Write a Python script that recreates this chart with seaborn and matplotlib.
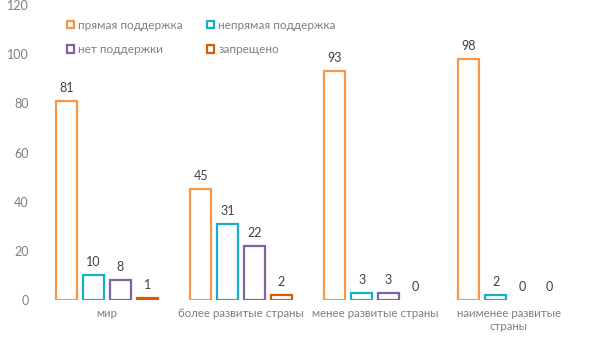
import matplotlib
matplotlib.use("Agg")
import matplotlib.pyplot as plt
from matplotlib.patches import Patch
import seaborn as sns
import pandas as pd

categories = ["мир", "более развитые страны", "менее развитые страны", "наименее развитые\nстраны"]
series = ["прямая поддержка", "непрямая поддержка", "нет поддержки", "запрещено"]
direct = [81, 45, 93, 98]
indirect = [10, 31, 3, 2]
no_support = [8, 22, 3, 0]
banned = [1, 2, 0, 0]
colors = ["#F79646", "#17AFC5", "#8064A2", "#D35E0A"]
y_ticks = [0, 20, 40, 60, 80, 100, 120]

values = [direct, indirect, no_support, banned]
rows = []
for s, vals in zip(series, values):
    for c, v in zip(categories, vals):
        rows.append({"category": c, "series": s, "value": v})
df = pd.DataFrame(rows)

sns.set_theme(style="white")
plt.rcParams["font.family"] = ["Lato", "DejaVu Sans"]

fig = plt.figure(figsize=(5.93, 3.44), dpi=100)
ax = fig.add_axes([40 / 593, 44 / 344, 536 / 593, 295 / 344])

sns.barplot(data=df, x="category", y="value", hue="series", order=categories,
            hue_order=series, palette=colors, fill=False, linewidth=1.6,
            width=0.8, gap=0.22, legend=False, ax=ax, errorbar=None)

for cont in ax.containers:
    for p in cont.patches:
        if p.get_height() == 0:
            p.set_linewidth(0)
    ax.bar_label(cont, fmt="%d", padding=5, fontsize=9, color="#404040")

ax.set_ylim(0, 120)
ax.set_yticks(y_ticks)
ax.set_xlabel("")
ax.set_ylabel("")
for s in ax.spines.values():
    s.set_visible(False)
ax.tick_params(axis="both", length=0, labelsize=9, labelcolor="#7F7F7F")
ax.tick_params(axis="x", labelsize=8.3, pad=6)
ax.tick_params(axis="y", pad=8)

# legend fills column by column: reorder so rows read left to right
order = [0, 2, 1, 3]
handles = [Patch(facecolor="white", edgecolor=colors[i], linewidth=1.6) for i in order]
labels = [series[i] for i in order]
fig.legend(handles, labels, loc="upper left", bbox_to_anchor=(56 / 593, 1 - 9 / 344),
           ncol=2, frameon=False, fontsize=8.5, handlelength=0.6, handleheight=0.6,
           handletextpad=0.4, columnspacing=2.0, labelspacing=1.15, labelcolor="#7F7F7F")

fig.savefig("out.png", dpi=100)
